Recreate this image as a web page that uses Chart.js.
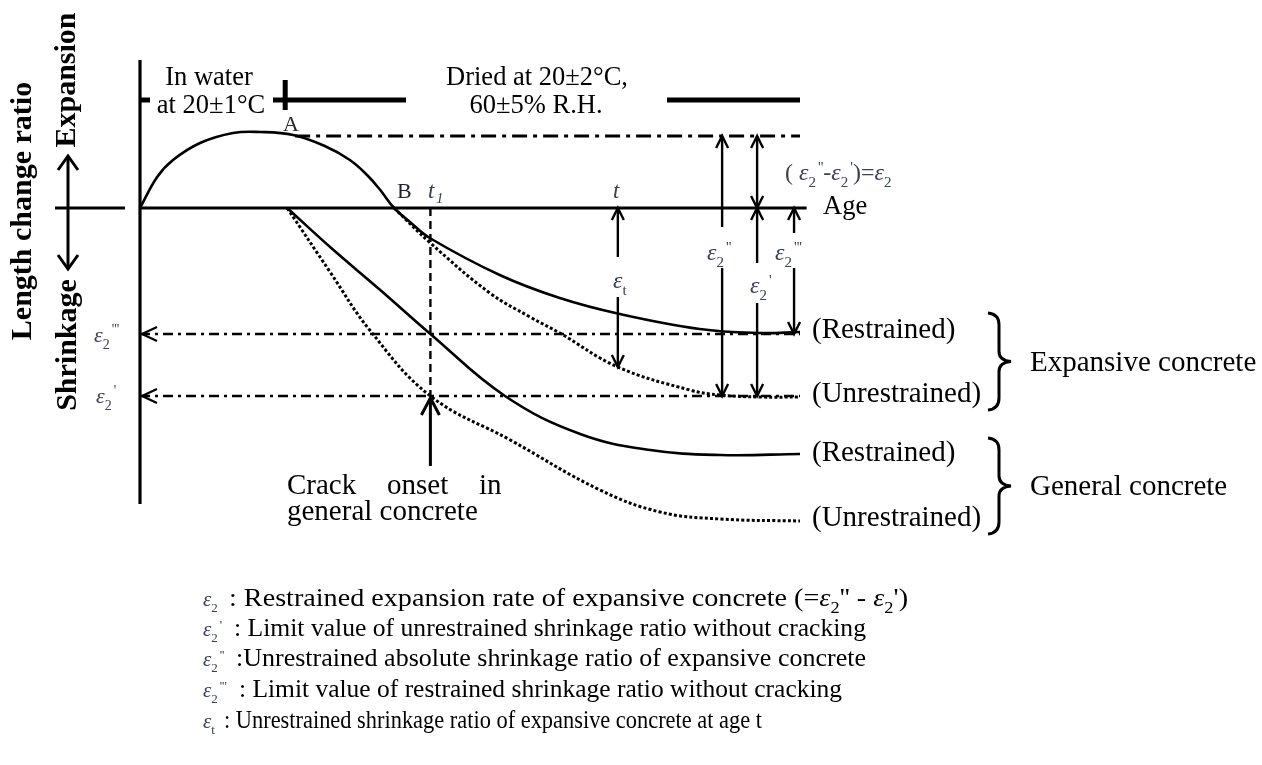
<!DOCTYPE html>
<html>
<head>
<meta charset="utf-8">
<script src="https://cdn.jsdelivr.net/npm/chart.js@4.4.1/dist/chart.umd.min.js"></script>
<style>
  html, body { margin: 0; padding: 0; background: #fff; }
  canvas { display: block; }
</style>
</head>
<body>
<canvas id="diagram" width="1262" height="765"></canvas>
<script>
// Length change ratio against age (schematic units)
const expRestrainedAge   = [0, 2.6, 5.0, 9.1, 14.1, 18.2, 23.2, 28.0, 31.8, 34.4, 36.4, 38.5, 40.9, 43.9, 54.5, 63.6, 72.7, 84.8, 93.9, 100];
const expRestrainedRatio = [0, 1.55, 2.4, 3.25, 3.75, 3.8, 3.65, 3.1, 2.4, 1.65, 0.9, 0, -0.7, -1.5, -3.35, -4.5, -5.3, -6.05, -6.25, -6.2];

const expFreeAge   = [38.5, 44, 53, 59.1, 63.6, 72.4, 83.3, 87.9, 93.9, 100];
const expFreeRatio = [0, -1.75, -4.25, -5.45, -6.25, -7.95, -9.1, -9.35, -9.45, -9.45];

const genRestrainedAge   = [22.3, 28.8, 36.4, 44, 55.3, 66.7, 77.3, 87.9, 100];
const genRestrainedRatio = [0, -1.95, -4.1, -6.3, -9.4, -11.3, -12.1, -12.35, -12.3];

const genFreeAge   = [22.3, 28.8, 34.8, 44, 56.1, 69.7, 78.8, 87.9, 100];
const genFreeRatio = [0, -3.2, -6.1, -9.4, -11.6, -14.1, -15.2, -15.55, -15.65];

// levels on the ratio axis
const peakLevel = 3.6;          // A
const limitRestrained = -6.3;   // eps2'''
const limitFree = -9.4;         // eps2'
const epsTValue = -7.95;        // unrestrained expansive at age t

// ages
const waterEnd = 22;
const crackAge = 44;            // t1
const tAge = 72.4;              // t
const endAge = 100;
const markAges = [88.2, 93.5, 99.1];   // eps2'', eps2', eps2''' arrows

const SERIF = '"Liberation Serif", "Times New Roman", serif';
const EPS_COLOR = '#39415a';

function series(xs, ys, style) {
  return Object.assign({
    data: xs.map((x, i) => ({ x: x, y: ys[i] })),
    showLine: true,
    borderColor: '#000',
    borderWidth: 2.6,
    pointRadius: 0,
    fill: false,
    tension: 0,
    borderCapStyle: 'butt'
  }, style);
}
const smooth = { tension: 0.4 };
const dotted = { borderDash: [3, 2.2], borderWidth: 3 };
const dashDot = { borderDash: [10, 5, 3, 5], borderWidth: 2.6 };

const barLevel = 5.4;
const datasets = [
  series([0, 0], [7.4, -14.8], { borderWidth: 3.2 }),
  series([0, 101], [0, 0], { borderWidth: 3.2 }),
  series([0, endAge], [barLevel, barLevel], { borderWidth: 5 }),
  series([waterEnd, waterEnd], [barLevel - 0.5, barLevel + 1], { borderWidth: 5 }),
  series([23.5, endAge], [peakLevel, peakLevel], { borderDash: [15, 6, 4, 6], borderWidth: 3 }),
  series([0, endAge], [limitRestrained, limitRestrained], dashDot),
  series([0, endAge], [limitFree, limitFree], dashDot),
  series([crackAge, crackAge], [0, limitFree], { borderDash: [8, 5], borderWidth: 2.4 }),
  series(expRestrainedAge, expRestrainedRatio, smooth),
  series(expFreeAge, expFreeRatio, Object.assign({}, smooth, dotted)),
  series(genRestrainedAge, genRestrainedRatio, smooth),
  series(genFreeAge, genFreeRatio, Object.assign({}, smooth, dotted))
];

function head(ctx, x, y, dir, len, hw) {
  ctx.beginPath();
  if (dir === 'up')   { ctx.moveTo(x - hw, y + len); ctx.lineTo(x, y); ctx.lineTo(x + hw, y + len); }
  if (dir === 'down') { ctx.moveTo(x - hw, y - len); ctx.lineTo(x, y); ctx.lineTo(x + hw, y - len); }
  if (dir === 'left') { ctx.moveTo(x + len, y - hw); ctx.lineTo(x, y); ctx.lineTo(x + len, y + hw); }
  ctx.stroke();
}
function seg(ctx, x1, y1, x2, y2) {
  ctx.beginPath(); ctx.moveTo(x1, y1); ctx.lineTo(x2, y2); ctx.stroke();
}

// epsilon with subscript and primes, returns right edge
function eps(ctx, x, y, sub, primes, size, color) {
  ctx.fillStyle = color || EPS_COLOR;
  ctx.font = 'italic ' + size + 'px ' + SERIF;
  ctx.fillText('ε', x, y);
  x += ctx.measureText('ε').width;
  ctx.font = Math.round(size * 0.62) + 'px ' + SERIF;
  ctx.fillText(sub, x, y + size * 0.3);
  let w = ctx.measureText(sub).width;
  if (primes) {
    ctx.font = Math.round(size * 0.62) + 'px ' + SERIF;
    ctx.fillText(primes, x + w + 2, y - size * 0.35);
    w += 2 + ctx.measureText(primes).width;
  }
  return x + w;
}
function text(ctx, s, x, y, size, opts) {
  opts = opts || {};
  ctx.fillStyle = opts.color || '#000';
  ctx.font = (opts.style || '') + ' ' + size + 'px ' + SERIF;
  ctx.textAlign = opts.align || 'left';
  ctx.fillText(s, x, y);
  const w = ctx.measureText(s).width;
  ctx.textAlign = 'left';
  return x + w;
}
// a run of text pieces squeezed or stretched to end at `right`
function row(ctx, x, y, right, parts) {
  let w = 0;
  parts.forEach(p => { ctx.font = p.f; w += ctx.measureText(p.s).width; });
  const k = (right - x) / w;
  ctx.save();
  ctx.translate(x, y);
  ctx.scale(k, 1);
  ctx.fillStyle = '#000';
  let cx = 0;
  parts.forEach(p => {
    ctx.font = p.f;
    ctx.fillText(p.s, cx, p.dy || 0);
    cx += ctx.measureText(p.s).width;
  });
  ctx.restore();
}
function brace(ctx, x, top, bottom) {
  const mid = (top + bottom) / 2;
  ctx.beginPath();
  ctx.moveTo(x, top);
  ctx.quadraticCurveTo(x + 11, top + 1, x + 11, top + 12);
  ctx.lineTo(x + 11, mid - 10);
  ctx.quadraticCurveTo(x + 11, mid - 1, x + 23, mid);
  ctx.quadraticCurveTo(x + 11, mid + 1, x + 11, mid + 10);
  ctx.lineTo(x + 11, bottom - 12);
  ctx.quadraticCurveTo(x + 11, bottom - 1, x, bottom);
  ctx.stroke();
}

const annotate = {
  id: 'annotate',
  beforeDraw(chart) {
    const ctx = chart.ctx;
    ctx.save();
    ctx.fillStyle = '#fff';
    ctx.fillRect(0, 0, chart.width, chart.height);
    ctx.restore();
  },
  afterDatasetsDraw(chart) {
    const ctx = chart.ctx;
    const X = v => chart.scales.x.getPixelForValue(v);
    const Y = v => chart.scales.y.getPixelForValue(v);
    ctx.save();
    ctx.textBaseline = 'alphabetic';
    ctx.strokeStyle = '#000';
    ctx.lineCap = 'butt';

    // curing condition boxes over the top bar
    ctx.fillStyle = '#fff';
    ctx.fillRect(150, 58, 123, 64);
    ctx.fillRect(406, 58, 261, 64);
    text(ctx, 'In water', 209, 85, 26.5, { align: 'center' });
    text(ctx, 'at 20±1°C', 211, 113, 26.5, { align: 'center' });
    text(ctx, 'Dried at 20±2°C,', 537, 85, 26.5, { align: 'center' });
    text(ctx, '60±5% R.H.', 536, 113, 26.5, { align: 'center' });

    // dimension arrows
    ctx.lineWidth = 2.4;
    const dims = [
      { age: tAge, top: 0, bottom: epsTValue, gap: [-2.45, -4.45] },
      { age: markAges[0], top: peakLevel, bottom: limitFree, gap: [-0.95, -3.0] },
      { age: markAges[1], top: 0, bottom: limitFree, gap: [-2.75, -4.75] },
      { age: markAges[1], top: peakLevel, bottom: 0, gap: null },
      { age: markAges[2], top: 0, bottom: limitRestrained, gap: [-1.25, -3.0] }
    ];
    dims.forEach(d => {
      const x = X(d.age);
      if (d.gap) {
        seg(ctx, x, Y(d.top), x, Y(d.gap[0]));
        seg(ctx, x, Y(d.gap[1]), x, Y(d.bottom));
      } else {
        seg(ctx, x, Y(d.top), x, Y(d.bottom));
      }
      head(ctx, x, Y(d.top), 'up', 12, 6);
      head(ctx, x, Y(d.bottom), 'down', 12, 6);
    });

    // crack onset arrow
    ctx.lineWidth = 3;
    const cx = X(crackAge);
    seg(ctx, cx, Y(-12.9), cx, Y(limitFree) + 2);
    head(ctx, cx, Y(limitFree) + 2, 'up', 17, 9);

    // limit markers on the ratio axis
    ctx.lineWidth = 2.2;
    head(ctx, X(0) + 2, Y(limitRestrained), 'left', 15, 7);
    head(ctx, X(0) + 2, Y(limitFree), 'left', 15, 7);

    // axis title arrows
    ctx.lineWidth = 3;
    seg(ctx, 68, 156, 68, 269);
    head(ctx, 68, 156, 'up', 14, 10);
    head(ctx, 68, 269, 'down', 14, 10);
    seg(ctx, 55, Y(0), 125, Y(0));

    // axis titles
    ctx.fillStyle = '#000';
    ctx.font = 'bold 30px ' + SERIF;
    ctx.textAlign = 'center';
    [['Length change ratio', 31, 211], ['Expansion', 75, 80], ['Shrinkage', 76, 345]].forEach(t => {
      ctx.save();
      ctx.translate(t[1], t[2]);
      ctx.rotate(-Math.PI / 2);
      ctx.fillText(t[0], 0, 0);
      ctx.restore();
    });
    ctx.textAlign = 'left';

    // point and age labels
    text(ctx, 'A', 291, 131, 22, { align: 'center', color: '#2a2a2a' });
    text(ctx, 'B', 397, 198, 22, { color: '#1c2233' });
    text(ctx, 't', 428, 198, 23, { style: 'italic', color: EPS_COLOR });
    text(ctx, '1', 436, 203, 15, { style: 'italic', color: EPS_COLOR });
    text(ctx, 't', 613, 198, 23, { style: 'italic', color: EPS_COLOR });
    text(ctx, 'Age', 823, 214, 26.5);

    // epsilon labels in the plot
    eps(ctx, 707, 260, '2', "''", 24);
    eps(ctx, 775, 260, '2', "'''", 24);
    eps(ctx, 750, 293, '2', "'", 24);
    eps(ctx, 613, 288, 't', '', 24);
    eps(ctx, 94, 342, '2', "'''", 22);
    eps(ctx, 96, 403, '2', "'", 22);

    // (eps2'' - eps2') = eps2
    let x = text(ctx, '( ', 785, 180, 24, { color: EPS_COLOR });
    x = eps(ctx, x, 180, '2', "''", 24);
    x = text(ctx, '-', x, 180, 24, { color: EPS_COLOR });
    x = eps(ctx, x, 180, '2', "'", 24);
    x = text(ctx, ')=', x, 180, 24, { color: EPS_COLOR });
    eps(ctx, x, 180, '2', '', 24);

    // crack onset note
    text(ctx, 'Crack', 287, 494, 29);
    text(ctx, 'onset', 387, 494, 29);
    text(ctx, 'in', 479, 494, 29);
    text(ctx, 'general concrete', 287, 520, 29);

    // curve names and groups
    text(ctx, '(Restrained)', 812, 338, 29);
    text(ctx, '(Unrestrained)', 812, 402, 29);
    text(ctx, '(Restrained)', 812, 461, 29);
    text(ctx, '(Unrestrained)', 812, 526, 29);
    ctx.lineWidth = 3;
    brace(ctx, 988, 313, 410);
    brace(ctx, 988, 438, 534);
    text(ctx, 'Expansive concrete', 1030, 371, 29);
    text(ctx, 'General concrete', 1030, 495, 29);

    // symbol list
    const F = '26px ' + SERIF, FI = 'italic 26px ' + SERIF, FS = '17px ' + SERIF;
    eps(ctx, 203, 606, '2', '', 21);
    row(ctx, 229, 606, 908, [
      { s: ': Restrained expansion rate of expansive concrete (=', f: F },
      { s: 'ε', f: FI }, { s: '2', f: FS, dy: 7 }, { s: "'' - ", f: F },
      { s: 'ε', f: FI }, { s: '2', f: FS, dy: 7 }, { s: "')", f: F }
    ]);
    eps(ctx, 203, 636, '2', "'", 21);
    row(ctx, 234, 636, 866, [{ s: ': Limit value of unrestrained shrinkage ratio without cracking', f: F }]);
    eps(ctx, 203, 666, '2', "''", 21);
    row(ctx, 236, 666, 866, [{ s: ':Unrestrained absolute shrinkage ratio of expansive concrete', f: F }]);
    eps(ctx, 203, 697, '2', "'''", 21);
    row(ctx, 239, 697, 842, [{ s: ': Limit value of restrained shrinkage ratio without cracking', f: F }]);
    eps(ctx, 203, 728, 't', '', 21);
    row(ctx, 224, 728, 762, [{ s: ': Unrestrained shrinkage ratio of expansive concrete at age t', f: F }]);

    ctx.restore();
  }
};

const chart = new Chart(document.getElementById('diagram'), {
  type: 'scatter',
  data: { datasets: datasets },
  options: {
    responsive: false,
    animation: false,
    layout: { padding: 0 },
    plugins: { legend: { display: false }, tooltip: { enabled: false } },
    scales: {
      x: { type: 'linear', display: false, min: -140 / 6.6, max: 1122 / 6.6 },
      y: { type: 'linear', display: false, min: -27.85, max: 10.4 }
    }
  },
  plugins: [annotate]
});
</script>
</body>
</html>
